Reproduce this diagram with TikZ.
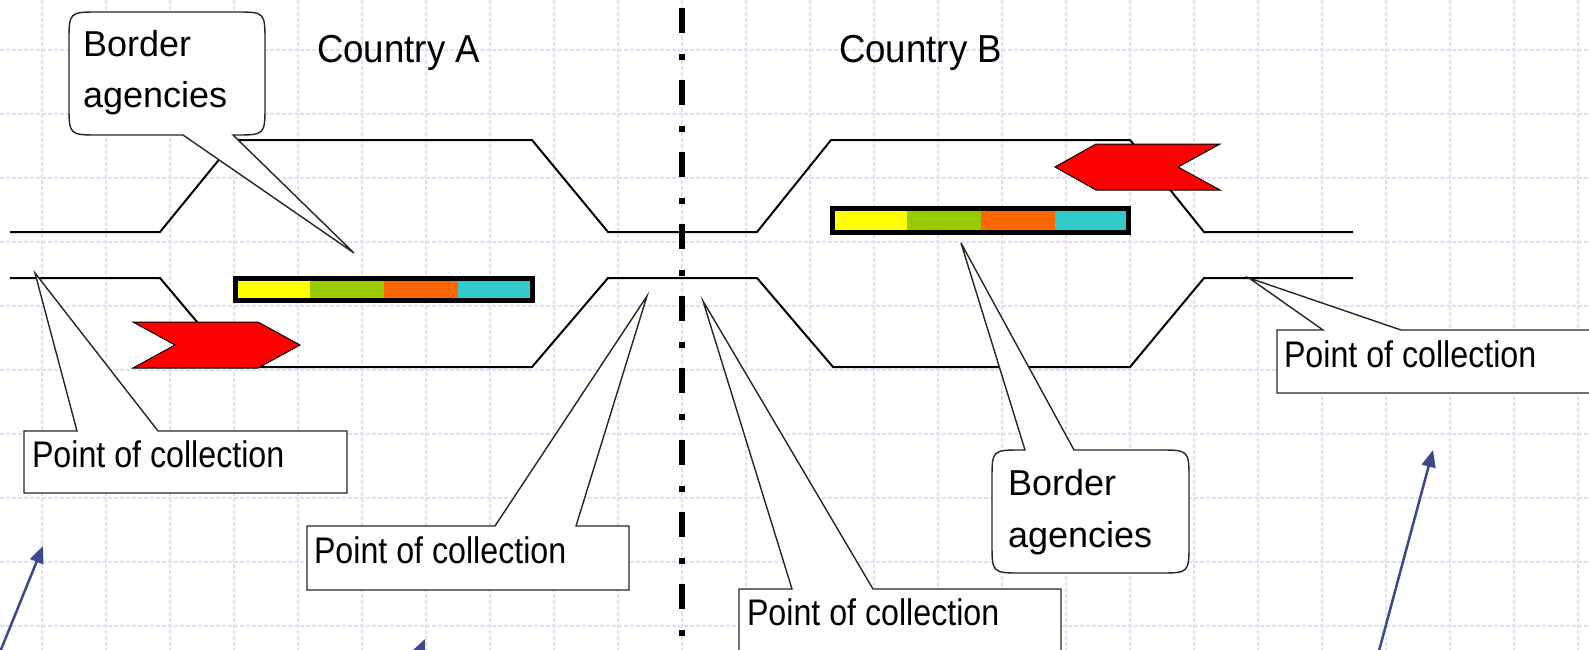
\documentclass[tikz,border=0pt]{standalone}
\usepackage{fontspec}
\setmainfont{Liberation Sans}
\newfontfamily\pocfont[FakeStretch=0.87]{Liberation Sans}
\newfontfamily\ctryfont[FakeStretch=0.94]{Liberation Sans}
\usetikzlibrary{arrows.meta}
\definecolor{gridc}{RGB}{218,226,250}
\definecolor{navyarrow}{RGB}{62,72,142}
\definecolor{barY}{RGB}{255,255,0}
\definecolor{barG}{RGB}{153,204,0}
\definecolor{barO}{RGB}{255,102,0}
\definecolor{barC}{RGB}{51,204,204}
\tikzset{
  gridline/.style={draw=gridc, line width=1.2pt, dash pattern=on 4pt off 2pt},
  road/.style={draw=black, line width=2pt, line join=miter},
  callout/.style={draw=black!85, line width=1.4pt, fill=white, line join=miter},
  redarrow/.style={fill=red, draw=black, line width=1pt, line join=miter},
  barframe/.style={draw=black, line width=5pt},
  blueptr/.style={draw=navyarrow, line width=2.5pt, -{Triangle[length=17pt,width=14pt]}},
  border/.style={draw=black, line width=6.5pt, dash pattern=on 25pt off 21pt on 6pt off 20pt},
  lbl/.style={anchor=base west, inner sep=0pt, outer sep=0pt, text=black},
  poclbl/.style={lbl, font=\fontsize{37}{40}\pocfont},
  balbl/.style={lbl, font=\fontsize{36}{40}\selectfont},
  ctrylbl/.style={lbl, font=\fontsize{39}{42}\ctryfont}
}
\begin{document}
\begin{tikzpicture}[x=1pt,y=-1pt]
\useasboundingbox (0,0) rectangle (1589,650);
\clip (0,0) rectangle (1589,650);
\fill[white] (0,0) rectangle (1589,650);
% grid
\foreach \gx in {0,...,24} {
  \draw[gridline] ({42+64*\gx},0) -- ({42+64*\gx},650);
}
\foreach \gy in {0,...,9} {
  \draw[gridline] (0,{50+64*\gy}) -- (1589,{50+64*\gy});
}
% roads
\draw[road] (10,232) -- (160,232) -- (235,140) -- (532,140) -- (608,232) -- (757,232)
  -- (831,140) -- (1130,140) -- (1204,232) -- (1353,232);
\draw[road] (10,278) -- (160,278) -- (235,367) -- (532,367) -- (608,278) -- (757,278)
  -- (833,367) -- (1130,367) -- (1204,278) -- (1353,278);
% colour bars
\fill[barY] (235.5,278.5) rectangle (309.75,300.5);
\fill[barG] (309.75,278.5) rectangle (384,300.5);
\fill[barO] (384,278.5) rectangle (458.25,300.5);
\fill[barC] (458.25,278.5) rectangle (532.5,300.5);
\draw[barframe] (235.5,278.5) rectangle (532.5,300.5);
\fill[barY] (832.5,208.5) rectangle (906.5,232.5);
\fill[barG] (906.5,208.5) rectangle (980.5,232.5);
\fill[barO] (980.5,208.5) rectangle (1054.5,232.5);
\fill[barC] (1054.5,208.5) rectangle (1128.5,232.5);
\draw[barframe] (832.5,208.5) rectangle (1128.5,232.5);
% red arrows
\draw[redarrow] (133,322) -- (258,322) -- (300,345) -- (258,368) -- (133,368) -- (175,345) -- cycle;
\draw[redarrow] (1055,167) -- (1096,144) -- (1220,144) -- (1178,167) -- (1220,190) -- (1096,190) -- cycle;
% callouts
\draw[callout] (183,135) -- (354,253) -- (233,135) -- (235,135) .. controls (265,135) .. (265,105)
  -- (265,42) .. controls (265,12) .. (235,12) -- (99,12) .. controls (69,12) .. (69,42)
  -- (69,105) .. controls (69,135) .. (99,135) -- cycle;
\draw[callout] (1025,450) -- (961,243) -- (1074,450) -- (1159,450) .. controls (1189,450) .. (1189,480)
  -- (1189,543) .. controls (1189,573) .. (1159,573) -- (1022,573) .. controls (992,573) .. (992,543)
  -- (992,480) .. controls (992,450) .. (1022,450) -- cycle;
\draw[callout] (24,431) -- (77,431) -- (35,273) -- (158,431) -- (347,431) -- (347,493) -- (24,493) -- cycle;
\draw[callout] (307,526) -- (495,526) -- (647,296) -- (576,526) -- (629,526) -- (629,590) -- (307,590) -- cycle;
\draw[callout] (739,589) -- (792,589) -- (703,301) -- (873,589) -- (1061,589) -- (1061,665) -- (739,665) -- cycle;
\draw[callout] (1277,330) -- (1323,330) -- (1249,278) -- (1401,330) -- (1600,330) -- (1600,393) -- (1277,393) -- cycle;
% texts
\node[ctrylbl] (ctryA) at (317,63) {Country A};
\node[ctrylbl] (ctryB) at (839,63) {Country B};
\node[balbl] (baL1) at (83,57) {Border};
\node[balbl] (baL2) at (83,108) {agencies};
\node[balbl] (baR1) at (1008,495) {Border};
\node[balbl] (baR2) at (1008,547) {agencies};
\node[poclbl] (poc1) at (32,467) {Point of collection};
\node[poclbl] (poc2) at (314,563) {Point of collection};
\node[poclbl] (poc3) at (747,625) {Point of collection};
\node[poclbl] (poc4) at (1284,367) {Point of collection};
% blue arrows
\coordinate (a1s) at (-2,657);
\coordinate (a1e) at (43,546);
\coordinate (a2s) at (398,700);
\coordinate (a2e) at (425,639);
\coordinate (a3s) at (1376,662);
\coordinate (a3e) at (1433,450);
\draw[blueptr] (a1s) -- (a1e);
\draw[blueptr] (a2s) -- (a2e);
\draw[blueptr] (a3s) -- (a3e);
% border line
\coordinate (bt) at (682,8);
\coordinate (bb) at (682,660);
\draw[border] (bt) -- (bb);
\end{tikzpicture}
\end{document}
